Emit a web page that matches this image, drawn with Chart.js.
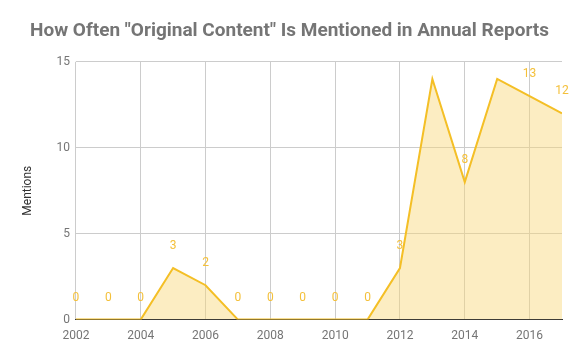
<!DOCTYPE html>
<html>
<head>
<meta charset="utf-8">
<script src="https://cdn.jsdelivr.net/npm/chart.js@4/dist/chart.umd.min.js"></script>
<style>
  html, body { margin: 0; padding: 0; background: #fff; }
  #wrap { width: 580px; height: 359px; position: relative; }
</style>
</head>
<body>
<div id="wrap"><canvas id="chart"></canvas></div>
<script>
const years = [2002, 2003, 2004, 2005, 2006, 2007, 2008, 2009, 2010, 2011, 2012, 2013, 2014, 2015, 2016, 2017];
const mentions = [0, 0, 0, 3, 2, 0, 0, 0, 0, 0, 3, 14, 8, 14, 13, 12];
const xTicks = [2002, 2004, 2006, 2008, 2010, 2012, 2014, 2016];
const yTicks = [0, 5, 10, 15];

// value labels above points (skipped when they would leave the plot)
const pointLabels = {
    id: 'pointLabels',
    afterDatasetsDraw(chart) {
        const ctx = chart.ctx;
        const meta = chart.getDatasetMeta(0);
        ctx.save();
        ctx.font = '12px Roboto';
        ctx.fillStyle = '#f4c03a';
        ctx.textAlign = 'center';
        ctx.textBaseline = 'middle';
        meta.data.forEach(function(pt, i) {
            const y = pt.y - 22;
            if (y < chart.chartArea.top) return;
            ctx.fillText(String(mentions[i]), pt.x, y);
        });
        ctx.restore();
    }
};

new Chart(document.getElementById('chart'), {
    type: 'line',
    data: {
        datasets: [{
            data: years.map((yr, i) => ({ x: yr, y: mentions[i] })),
            borderColor: '#f4bf26',
            backgroundColor: 'rgba(248, 215, 120, 0.45)',
            borderWidth: 2,
            fill: 'origin',
            pointRadius: 0,
            tension: 0
        }]
    },
    options: {
        responsive: true,
        maintainAspectRatio: false,
        animation: false,
        layout: { padding: { left: 17, right: 18, top: 0, bottom: 7 } },
        plugins: {
            legend: { display: false },
            tooltip: { enabled: false },
            title: {
                display: true,
                text: 'How Often "Original Content" Is Mentioned in Annual Reports',
                color: '#757575',
                font: { family: 'Roboto', size: 19, weight: 'bold' },
                padding: { top: 20, bottom: 19 }
            }
        },
        scales: {
            x: {
                type: 'linear',
                min: 2002,
                max: 2017,
                afterBuildTicks: axis => { axis.ticks = xTicks.map(v => ({ value: v })); },
                ticks: {
                    color: '#757575',
                    font: { family: 'Roboto', size: 12 },
                    callback: v => String(v),
                    maxRotation: 0,
                    padding: 9
                },
                grid: { color: '#cccccc', drawTicks: false },
                border: { color: '#333333', width: 1 }
            },
            y: {
                min: 0,
                max: 15,
                afterBuildTicks: axis => { axis.ticks = yTicks.map(v => ({ value: v })); },
                ticks: {
                    color: '#757575',
                    font: { family: 'Roboto', size: 12 },
                    padding: 6
                },
                grid: { color: '#cccccc', drawTicks: false },
                border: { display: false },
                title: {
                    display: true,
                    text: 'Mentions',
                    color: '#333333',
                    font: { family: 'Roboto', size: 12 },
                    padding: { bottom: 15 }
                }
            }
        }
    },
    plugins: [pointLabels]
});
</script>
</body>
</html>
